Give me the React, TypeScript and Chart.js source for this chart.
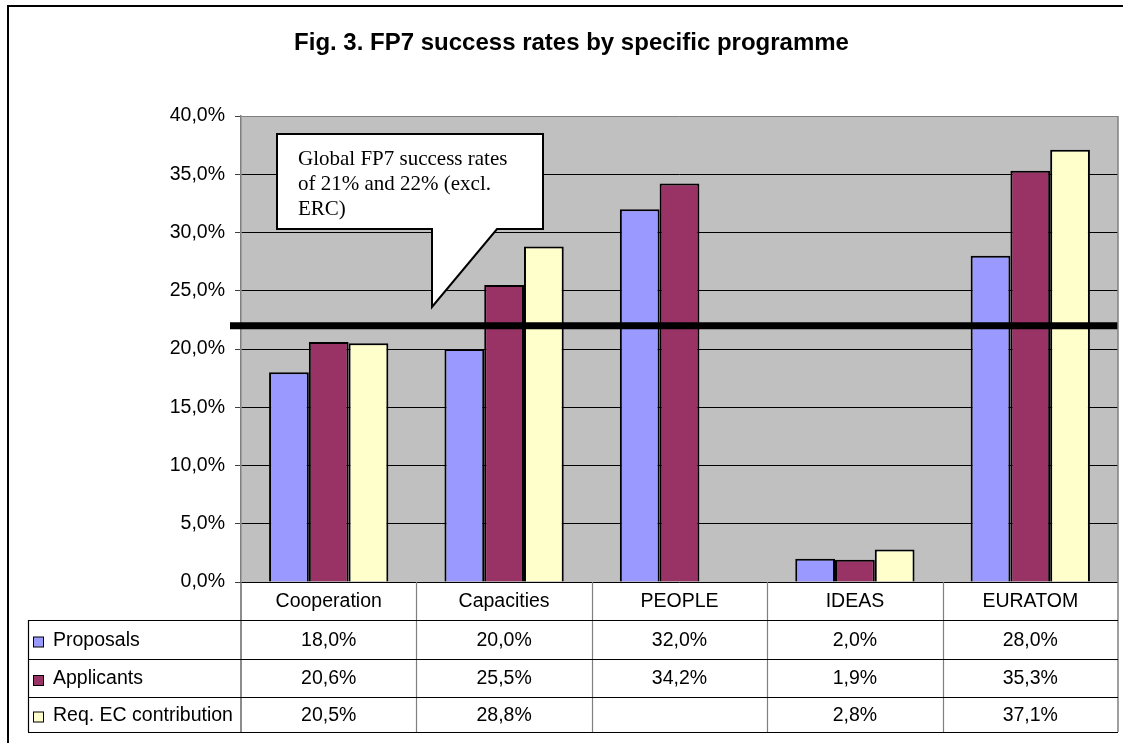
import React, { useEffect, useRef } from 'react';
import { Chart, registerables } from 'chart.js';

Chart.register(...registerables);

const TITLE = 'Fig. 3. FP7 success rates by specific programme';
const CATEGORIES = ['Cooperation', 'Capacities', 'PEOPLE', 'IDEAS', 'EURATOM'];
const SERIES_NAMES = ['Proposals', 'Applicants', 'Req. EC contribution'];
const PROPOSALS: (number | null)[] = [18.0, 20.0, 32.0, 2.0, 28.0];
const APPLICANTS: (number | null)[] = [20.6, 25.5, 34.2, 1.9, 35.3];
const REQ_EC: (number | null)[] = [20.5, 28.8, null, 2.8, 37.1];
const Y_MIN = 0;
const Y_MAX = 40;
const Y_STEP = 5;
const GLOBAL_RATE = 22;
const CALLOUT_LINES = ['Global FP7 success rates', 'of 21% and 22% (excl.', 'ERC)'];
const COLORS = ['#9999FF', '#993366', '#FFFFCC'];

const SANS = '"Liberation Sans", Arial, sans-serif';
const SERIF = '"Liberation Serif", "Times New Roman", serif';

const fmt = (v: number) => v.toFixed(1).replace('.', ',') + '%';

const W = 1123;
const H = 743;

const decorPlugin = {
  id: 'decor',
  beforeDraw(chart: any) {
    const { ctx, chartArea: a } = chart;
    ctx.save();
    ctx.fillStyle = '#ffffff';
    ctx.fillRect(0, 0, chart.width, chart.height);
    ctx.fillStyle = '#C0C0C0';
    ctx.fillRect(a.left, a.top, a.right - a.left, a.bottom - a.top);
    ctx.restore();
  },
  afterDraw(chart: any) {
    const { ctx, chartArea: a } = chart;
    const yScale = chart.scales.y;
    const xScale = chart.scales.x;
    ctx.save();

    // Global success rate line
    const yLine = yScale.getPixelForValue(GLOBAL_RATE);
    ctx.strokeStyle = '#000';
    ctx.lineWidth = 7;
    ctx.beginPath();
    ctx.moveTo(230, yLine);
    ctx.lineTo(a.right, yLine);
    ctx.stroke();

    // Callout
    ctx.beginPath();
    ctx.moveTo(277, 134);
    ctx.lineTo(543, 134);
    ctx.lineTo(543, 229);
    ctx.lineTo(497, 229);
    ctx.lineTo(432, 307);
    ctx.lineTo(432, 229);
    ctx.lineTo(277, 229);
    ctx.closePath();
    ctx.fillStyle = '#fff';
    ctx.fill();
    ctx.lineWidth = 2;
    ctx.strokeStyle = '#000';
    ctx.stroke();
    ctx.fillStyle = '#000';
    ctx.font = '21px ' + SERIF;
    ctx.textAlign = 'left';
    ctx.textBaseline = 'alphabetic';
    CALLOUT_LINES.forEach((t, i) => ctx.fillText(t, 298, 165 + i * 25));

    // Plot right border
    ctx.strokeStyle = '#808080';
    ctx.lineWidth = 1.5;
    ctx.beginPath();
    ctx.moveTo(a.right, a.top);
    ctx.lineTo(a.right, 732);
    ctx.stroke();

    // Data table
    const rows = [620, 659, 697, 732];
    const n = CATEGORIES.length;
    const cw = (a.right - a.left) / n;
    ctx.strokeStyle = '#808080';
    ctx.lineWidth = 1.2;
    for (let i = 1; i < n; i++) {
      const x = Math.round(a.left + i * cw) + 0.5;
      ctx.beginPath();
      ctx.moveTo(x, a.bottom);
      ctx.lineTo(x, rows[3]);
      ctx.stroke();
    }
    ctx.strokeStyle = '#404040';
    ctx.beginPath();
    ctx.moveTo(a.left, a.bottom);
    ctx.lineTo(a.left, rows[3]);
    ctx.stroke();
    ctx.strokeStyle = '#000';
    ctx.beginPath();
    ctx.moveTo(28.5, rows[0]);
    ctx.lineTo(28.5, rows[3]);
    ctx.stroke();
    ctx.strokeStyle = '#000';
    rows.forEach((y) => {
      ctx.beginPath();
      ctx.moveTo(28, y + 0.5);
      ctx.lineTo(a.right, y + 0.5);
      ctx.stroke();
    });

    ctx.font = '19.5px ' + SANS;
    ctx.fillStyle = '#000';
    ctx.textAlign = 'center';
    ctx.textBaseline = 'middle';
    CATEGORIES.forEach((c, i) => {
      ctx.fillText(c, xScale.getPixelForValue(i), (a.bottom + rows[0]) / 2 + 1);
    });
    const series = [PROPOSALS, APPLICANTS, REQ_EC];
    series.forEach((vals, r) => {
      const top = rows[r];
      const bot = rows[r + 1];
      const mid = (top + bot) / 2 + 1;
      vals.forEach((v, i) => {
        if (v === null || v === undefined) return;
        ctx.textAlign = 'center';
        ctx.fillText(fmt(v), xScale.getPixelForValue(i), mid);
      });
      ctx.fillStyle = COLORS[r];
      ctx.fillRect(33.5, mid - 3.5, 10, 10);
      ctx.strokeStyle = '#000';
      ctx.lineWidth = 1;
      ctx.strokeRect(33.5, mid - 3.5, 10, 10);
      ctx.fillStyle = '#000';
      ctx.textAlign = 'left';
      ctx.fillText(SERIES_NAMES[r], 53, mid);
    });

    // Outer frame
    ctx.strokeStyle = '#000';
    ctx.lineWidth = 2;
    ctx.beginPath();
    ctx.moveTo(8, H);
    ctx.lineTo(8, 6);
    ctx.lineTo(W, 6);
    ctx.stroke();

    // Title
    ctx.font = 'bold 24px ' + SANS;
    ctx.textAlign = 'center';
    ctx.textBaseline = 'alphabetic';
    ctx.fillText(TITLE, 571.5, 50);

    ctx.restore();
  },
};

export default function App() {
  const ref = useRef<HTMLCanvasElement | null>(null);

  useEffect(() => {
    const canvas = ref.current;
    if (!canvas) return;
    const chart = new Chart(canvas, {
      type: 'bar',
      data: {
        labels: CATEGORIES,
        datasets: [PROPOSALS, APPLICANTS, REQ_EC].map((d, i) => ({
          label: SERIES_NAMES[i],
          data: d,
          backgroundColor: COLORS[i],
          borderColor: '#000',
          borderWidth: 2,
          categoryPercentage: 0.68,
          barPercentage: 1.0,
        })),
      },
      options: {
        animation: false,
        responsive: false,
        devicePixelRatio: 1,
        layout: { padding: { left: 0, top: 116, right: 5, bottom: 0 } },
        plugins: {
          legend: { display: false },
          title: { display: false },
          tooltip: { enabled: false },
        },
        scales: {
          x: {
            type: 'category',
            display: true,
            offset: true,
            ticks: { display: false },
            grid: { display: false },
            border: { display: false },
            afterFit: (s: any) => {
              s.height = 161;
            },
          },
          y: {
            min: Y_MIN,
            max: Y_MAX,
            ticks: {
              stepSize: Y_STEP,
              color: '#000',
              font: { family: SANS, size: 19.5 },
              padding: 10,
              callback: (v: any) => fmt(Number(v)),
            },
            grid: {
              color: (c: any) => (c.tick && c.tick.value === Y_MAX ? '#808080' : '#000'),
              lineWidth: 1,
              tickLength: 6,
              tickColor: '#404040',
            },
            border: { display: true, color: '#808080', width: 1.5 },
            afterFit: (s: any) => {
              s.width = 241;
            },
          },
        },
      },
      plugins: [decorPlugin],
    } as any);
    return () => chart.destroy();
  }, []);

  return (
    <div style={{ position: 'absolute', left: 0, top: 0, width: W, height: H, background: '#fff' }}>
      <canvas ref={ref} width={W} height={H} style={{ display: 'block', width: W, height: H }} />
    </div>
  );
}
